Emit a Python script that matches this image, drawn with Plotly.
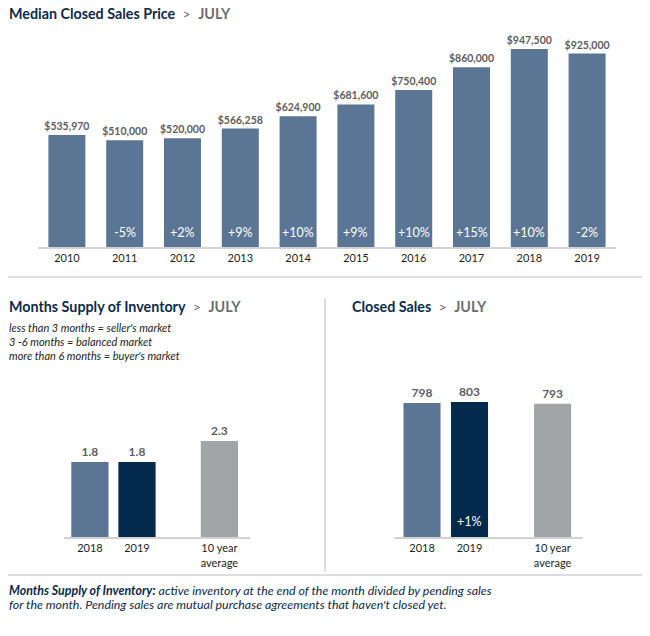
import plotly.graph_objects as go

W, H = 650, 636

# ---------------- data ----------------
years = ["2010", "2011", "2012", "2013", "2014", "2015", "2016", "2017", "2018", "2019"]
median_price = [535970, 510000, 520000, 566258, 624900, 681600, 750400, 860000, 947500, 925000]
price_labels = ["$535,970", "$510,000", "$520,000", "$566,258", "$624,900", "$681,600",
                "$750,400", "$860,000", "$947,500", "$925,000"]
price_change = ["", "-5%", "+2%", "+9%", "+10%", "+9%", "+10%", "+15%", "+10%", "-2%"]

cmp_categories = ["2018", "2019", "10 year<br>average"]
months_supply = [1.8, 1.8, 2.3]
closed_sales = [798, 803, 793]
closed_change = ["", "+1%", ""]

# ---------------- style ----------------
FONT = "Lato"
NAVY = "#0b2b4c"
GREYTXT = "#6d6e71"
LBL = "#5d5e60"
C_SLATE = "#5b7594"
C_NAVY = "#032a4d"
C_GREY = "#a2a5a8"
cmp_colors = [C_SLATE, C_NAVY, C_GREY]
cmp_pos = [0, 1, 2.75]  # layout positions of the comparison bars


def px_x(p):
    return p / W


def px_y(p):
    return 1 - p / H


fig = go.Figure()

fig.add_trace(go.Bar(
    x=years, y=median_price, marker_color=C_SLATE, marker_line_width=0,
    text=price_labels, texttemplate="<b>%{text}</b>", textposition="outside", cliponaxis=False,
    constraintext="none", textfont=dict(family=FONT, size=10.5, color=LBL),
    xaxis="x", yaxis="y", width=0.64, hoverinfo="skip"))

fig.add_trace(go.Bar(
    x=cmp_pos, y=months_supply, marker_color=cmp_colors, marker_line_width=0,
    text=[f"{v:.1f}" for v in months_supply], texttemplate="<b>%{text}</b>",
    textposition="outside", cliponaxis=False, constraintext="none",
    textfont=dict(family=FONT, size=12, color=LBL),
    xaxis="x2", yaxis="y2", width=0.79, hoverinfo="skip"))

fig.add_trace(go.Bar(
    x=cmp_pos, y=closed_sales, marker_color=cmp_colors, marker_line_width=0,
    text=[str(v) for v in closed_sales], texttemplate="<b>%{text}</b>",
    textposition="outside", cliponaxis=False, constraintext="none",
    textfont=dict(family=FONT, size=12, color=LBL),
    xaxis="x3", yaxis="y3", width=0.78, hoverinfo="skip"))

annotations = []
for i, ch in enumerate(price_change):
    if ch:
        annotations.append(dict(x=i, y=0, xref="x", yref="y", text=ch, showarrow=False,
                                yanchor="bottom", yshift=5,
                                font=dict(family=FONT, size=12.5, color="white")))
for p, ch in zip(cmp_pos, closed_change):
    if ch:
        annotations.append(dict(x=p, y=0, xref="x3", yref="y3", text=ch, showarrow=False,
                                yanchor="bottom", yshift=6,
                                font=dict(family=FONT, size=12.5, color="white")))


def title(x, y, main):
    return dict(x=px_x(x), y=px_y(y), xref="paper", yref="paper", xanchor="left", yanchor="middle",
                showarrow=False,
                text=f"<b>{main}</b>  <span style='color:{GREYTXT}'>&gt;  <b>JULY</b></span>",
                font=dict(family=FONT, size=14.3, color=NAVY))


annotations.append(title(7, 13, "Median Closed Sales Price"))
annotations.append(title(7, 307, "Months Supply of Inventory"))
annotations.append(title(350, 307, "Closed Sales"))

for i, line in enumerate(["less than 3 months = seller's market",
                          "3 -6 months = balanced market",
                          "more than 6 months = buyer's market"]):
    annotations.append(dict(x=px_x(7), y=px_y(327 + 14 * i), xref="paper", yref="paper",
                            xanchor="left", yanchor="middle", showarrow=False,
                            text=f"<i>{line}</i>",
                            font=dict(family=FONT, size=11, color="#231f20")))

foot = ["<b><i>Months Supply of Inventory:</i></b><i> active inventory at the end of the month divided by pending sales</i>",
        "<i>for the month. Pending sales are mutual purchase agreements that haven't closed yet.</i>"]
for i, line in enumerate(foot):
    annotations.append(dict(x=px_x(7), y=px_y(590 + 14 * i), xref="paper", yref="paper",
                            xanchor="left", yanchor="middle", showarrow=False, text=line,
                            font=dict(family=FONT, size=12.4, color=NAVY)))

shapes = [
    dict(type="line", xref="paper", yref="paper", x0=px_x(8), x1=px_x(642), y0=px_y(277), y1=px_y(277),
         line=dict(color="#d0d2d3", width=1.5)),
    dict(type="line", xref="paper", yref="paper", x0=px_x(8), x1=px_x(642), y0=px_y(575), y1=px_y(575),
         line=dict(color="#d0d2d3", width=1.5)),
    dict(type="line", xref="paper", yref="paper", x0=px_x(325), x1=px_x(325), y0=px_y(298), y1=px_y(572),
         line=dict(color="#d0d2d3", width=1.5)),
]

axis_common = dict(showgrid=False, zeroline=False, showline=True, linecolor="#d0d2d3", linewidth=2,
                   ticks="", tickfont=dict(family=FONT, size=11, color="#231f20"), fixedrange=True)
yaxis_common = dict(visible=False, showgrid=False, zeroline=False, fixedrange=True)

fig.update_layout(
    width=W, height=H, margin=dict(l=0, r=0, t=0, b=0, autoexpand=False),
    paper_bgcolor="white", plot_bgcolor="white", showlegend=False,
    xaxis=dict(domain=[px_x(38), px_x(616)], anchor="y", type="category", range=[-0.5, 9.5], **axis_common),
    yaxis=dict(domain=[px_y(247), px_y(40)], range=[0, 990000], anchor="x", **yaxis_common),
    xaxis2=dict(domain=[px_x(64), px_x(250)], anchor="y2", range=[-0.55, 3.4],
                tickvals=cmp_pos, ticktext=cmp_categories, **axis_common),
    yaxis2=dict(domain=[px_y(537), px_y(420)], range=[0, 2.806], anchor="x2", **yaxis_common),
    xaxis3=dict(domain=[px_x(394), px_x(583)], anchor="y3", range=[-0.59, 3.39],
                tickvals=cmp_pos, ticktext=cmp_categories, **axis_common),
    yaxis3=dict(domain=[px_y(537), px_y(380)], range=[0, 934.5], anchor="x3", **yaxis_common),
    annotations=annotations, shapes=shapes,
    font=dict(family=FONT),
)

fig.write_html("out.html")
